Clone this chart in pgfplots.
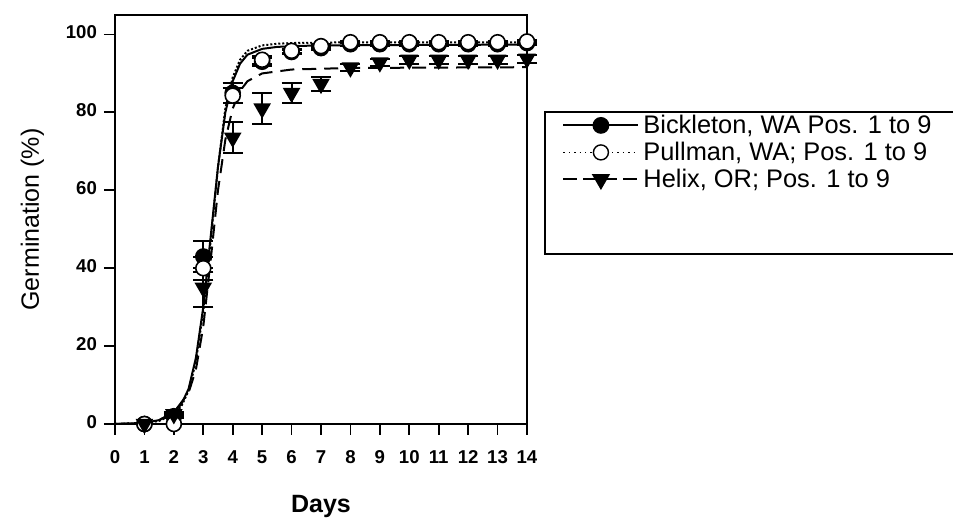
\documentclass[border=0pt]{standalone}
\usepackage{fontspec}
\setmainfont{Liberation Sans}
\usepackage{pgfplots}
\pgfplotsset{compat=1.18}
\begin{document}
\begin{tikzpicture}
\begin{axis}[
  scale only axis, width=206pt, height=204.5pt,
  xmin=0, xmax=14, ymin=0, ymax=105,
  xtick={0,1,...,14}, ytick={0,20,...,100},
  xticklabels={0,1,2,3,4,5,6,7,8,9,10,11,12,13,14},
  yticklabels={0,20,40,60,80,100},
  typeset ticklabels with strut,
  tick pos=left, tick align=outside, major tick length=5.5pt,
  axis line style={line width=1pt}, tick style={line width=0.9pt, black},
  ticklabel style={font=\bfseries\fontsize{9.3}{11}\selectfont},
  xticklabel style={yshift=-3pt},
  xlabel={\bfseries Days}, ylabel={Germination (\%)},
  xlabel style={font=\fontsize{12.5}{14}\selectfont, yshift=-6pt},
  ylabel style={font=\fontsize{12.5}{14}\selectfont, yshift=4pt},
  clip=false,
  legend style={at={(1.085,0.767)}, anchor=north west, draw=none, fill=none,
    inner sep=0pt, font=\fontsize{12.7}{13.6}\selectfont, row sep=-1.2pt,
    cells={anchor=west}, /tikz/every even column/.append style={column sep=3.5pt}},
  legend image code/.code={\draw[mark repeat=2,mark phase=2,#1] plot coordinates {(0pt,0pt) (18.75pt,0pt) (37.5pt,0pt)};},
  legend cell align=left,
]
% fitted curves
\addplot[black, line width=1pt, forget plot] coordinates {
(0,0) (1,0.3) (1.5,1) (2,3) (2.25,5) (2.5,9) (2.75,17) (3,30) (3.25,48) (3.5,66) (3.75,80) (4,88) (4.25,92.5) (4.5,94.8) (5,96.3) (5.5,96.8) (6,97) (7,97.2) (10,97.3) (14,97.4)};
\addplot[black, line width=1pt, densely dotted, forget plot] coordinates {
(0,0) (1,0.2) (1.5,0.8) (2,2.5) (2.25,4.5) (2.5,8.5) (2.75,16) (3,29) (3.25,47) (3.5,66) (3.75,81) (4,89) (4.25,93.5) (4.5,95.8) (5,97.2) (5.5,97.6) (6,97.8) (8,98) (14,98)};
\addplot[black, line width=1pt, dash pattern=on 7pt off 4pt, forget plot] coordinates {
(0,0) (1,0.3) (1.5,1) (2,3) (2.5,8) (2.75,14) (3,25) (3.25,42) (3.5,60) (3.75,73) (4,81) (4.25,85.5) (4.5,88) (5,90) (6,91) (8,91.4) (14,91.6)};
% data points with error bars
\addplot[only marks, mark=*, mark size=3.75pt, black, line width=0.8pt, forget plot,
  error bars/.cd, y dir=both, y explicit, error mark options={rotate=90, mark size=5pt, line width=1pt}, error bar style={line width=1pt}]
  coordinates {
(1,0) +- (0,0) (2,2) +- (0,0.5) (3,43) +- (0,4) (4,85) +- (0,2.5) (5,93) +- (0,1) (6,95.5) +- (0,0.5) (7,96.5) +- (0,0.5) (8,97.5) +- (0,0.5) (9,97.5) +- (0,0.5) (10,97.5) +- (0,0.5) (11,97.5) +- (0,0.5) (12,97.5) +- (0,0.5) (13,97.5) +- (0,0.5) (14,97.8) +- (0,0.5)};
\addplot[only marks, mark=*, mark options={fill=white}, mark size=3.75pt, black, line width=0.8pt, forget plot,
  error bars/.cd, y dir=both, y explicit, error mark options={rotate=90, mark size=5pt, line width=1pt}, error bar style={line width=1pt}]
  coordinates {
(1,0) +- (0,0) (2,0) +- (0,0) (3,40) +- (0,3) (4,84.3) +- (0,2) (5,93.5) +- (0,1) (6,95.8) +- (0,0.5) (7,97) +- (0,0.5) (8,98) +- (0,0.3) (9,98) +- (0,0.3) (10,98) +- (0,0.3) (11,98) +- (0,0.3) (12,98) +- (0,0.3) (13,98) +- (0,0.3) (14,98.2) +- (0,0.3)};
\addplot[only marks, mark=triangle*, mark options={rotate=180}, mark size=4.3pt, black, line width=0.8pt, forget plot,
  error bars/.cd, y dir=both, y explicit, error mark options={rotate=90, mark size=5pt, line width=1pt}, error bar style={line width=1pt}]
  coordinates {
(1,0) +- (0,0) (2,2.5) +- (0,0.5) (3,35) +- (0,5) (4,73.5) +- (0,4) (5,81) +- (0,4) (6,85) +- (0,2.5) (7,87.3) +- (0,1.8) (8,91.5) +- (0,1) (9,92.8) +- (0,1) (10,93.5) +- (0,1) (11,93.5) +- (0,1) (12,93.5) +- (0,1) (13,93.5) +- (0,1) (14,93.8) +- (0,1)};
\addlegendimage{black, line width=0.9pt, mark=*, mark size=3.75pt, mark options={solid}}
\addlegendentry{Bickleton, WA Pos. 1 to 9}
\addlegendimage{black, line width=0.7pt, dotted, mark=*, mark size=3.75pt, mark options={solid, fill=white}}
\addlegendentry{Pullman, WA; Pos. 1 to 9}
\addlegendimage{black, line width=1pt, dash pattern=on 7pt off 3pt, mark=triangle*, mark size=4.3pt, mark options={solid, rotate=180}}
\addlegendentry{Helix, OR; Pos. 1 to 9}
\end{axis}
\draw[line width=1pt] ([shift={(215pt,156pt)}]current axis.south west) rectangle ([shift={(430pt,85pt)}]current axis.south west);
\pgfresetboundingbox
\path ([shift={(-57.5pt,-47pt)}]current axis.south west) rectangle ([shift={(419pt,212pt)}]current axis.south west);
\end{tikzpicture}
\end{document}
